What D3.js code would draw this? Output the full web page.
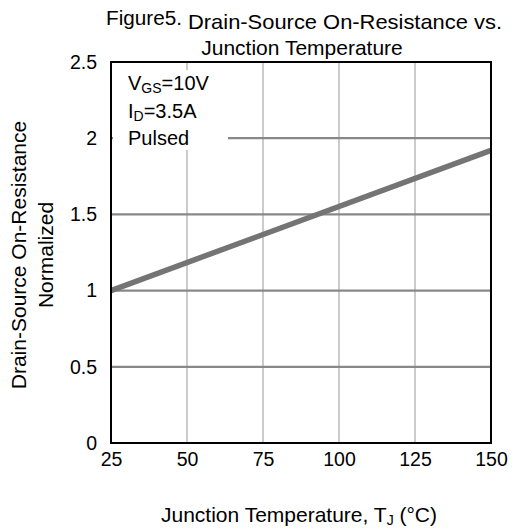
<!DOCTYPE html>
<html>
<head>
<meta charset="utf-8">
<script src="https://cdn.jsdelivr.net/npm/d3@7"></script>
<style>
  body { margin: 0; background: #fff; }
  svg text { font-family: "Liberation Sans", Arial, sans-serif; fill: #000; }
</style>
</head>
<body>
<div id="chart"></div>
<script>
const temps = [25, 150];
const rdsNorm = [1.0, 1.92];
const xTicks = [25, 50, 75, 100, 125, 150];
const yTicks = [0, 0.5, 1, 1.5, 2, 2.5];
const yTickLabels = ["0", "0.5", "1", "1.5", "2", "2.5"];

const W = 512, H = 529;
const margin = { top: 62, right: 21, bottom: 86, left: 111 },
      width = W - margin.left - margin.right,
      height = H - margin.top - margin.bottom;

const svg = d3.select("#chart").append("svg")
    .attr("width", W)
    .attr("height", H);

const g = svg.append("g")
    .attr("transform", "translate(" + margin.left + "," + margin.top + ")");

const x = d3.scaleLinear().domain([25, 150]).range([0, width]);
const y = d3.scaleLinear().domain([0, 2.5]).range([height, 0]);

// vertical grid (light)
g.append("g")
  .selectAll("line")
  .data(xTicks.slice(1, -1))
  .enter().append("line")
    .attr("x1", d => x(d)).attr("x2", d => x(d))
    .attr("y1", 0).attr("y2", height)
    .attr("stroke", "#b0b0b0")
    .attr("stroke-width", 1.3);

// horizontal grid (darker)
g.append("g")
  .selectAll("line")
  .data(yTicks.slice(1, -1))
  .enter().append("line")
    .attr("x1", 0).attr("x2", width)
    .attr("y1", d => y(d)).attr("y2", d => y(d))
    .attr("stroke", "#888")
    .attr("stroke-width", 2.2);

// data line
const data = temps.map((t, i) => ({ t: t, r: rdsNorm[i] }));
g.append("path")
  .datum(data)
  .attr("fill", "none")
  .attr("stroke", "#747474")
  .attr("stroke-width", 5.5)
  .attr("d", d3.line().x(d => x(d.t)).y(d => y(d.r)));

// condition box
g.append("rect")
  .attr("x", 2).attr("y", 8)
  .attr("width", 115).attr("height", 80)
  .attr("fill", "#fff");

const cond = g.append("text")
  .style("font-size", "20px");
const l1 = cond.append("tspan").attr("x", 17).attr("y", 28);
l1.append("tspan").text("V");
l1.append("tspan").attr("dy", 3).style("font-size", "14px").text("GS");
l1.append("tspan").attr("dy", -3).text("=10V");
const l2 = cond.append("tspan").attr("x", 17).attr("y", 56);
l2.append("tspan").text("I");
l2.append("tspan").attr("dy", 3).style("font-size", "14px").text("D");
l2.append("tspan").attr("dy", -3).text("=3.5A");
cond.append("tspan").attr("x", 17).attr("y", 83).text("Pulsed");

// frame
g.append("rect")
  .attr("width", width).attr("height", height)
  .attr("fill", "none")
  .attr("stroke", "#000")
  .attr("stroke-width", 2);

// axes
const xAxis = g.append("g")
  .attr("transform", "translate(0," + height + ")")
  .call(d3.axisBottom(x).tickValues(xTicks).tickSize(0).tickPadding(9).tickFormat(d3.format("d")));
xAxis.select(".domain").remove();
xAxis.selectAll("text").style("font-size", "19.5px").attr("fill", "#000");

const yAxis = g.append("g")
  .call(d3.axisLeft(y).tickValues(yTicks).tickSize(0).tickPadding(14)
    .tickFormat((d, i) => yTickLabels[i]));
yAxis.select(".domain").remove();
yAxis.selectAll("text").style("font-size", "19.5px").attr("fill", "#000");

// title
svg.append("text")
  .attr("x", 106).attr("y", 25)
  .style("font-size", "19.5px")
  .attr("textLength", 76)
  .attr("lengthAdjust", "spacingAndGlyphs")
  .text("Figure5.");
svg.append("text")
  .attr("x", 188).attr("y", 29)
  .style("font-size", "21px")
  .attr("textLength", 314)
  .attr("lengthAdjust", "spacingAndGlyphs")
  .text("Drain-Source On-Resistance vs.");
svg.append("text")
  .attr("x", 302).attr("y", 55)
  .attr("text-anchor", "middle")
  .style("font-size", "21px")
  .text("Junction Temperature");

// x label
const xl = svg.append("text")
  .attr("x", 299).attr("y", 522)
  .attr("text-anchor", "middle")
  .style("font-size", "21px");
xl.append("tspan").text("Junction Temperature, T");
xl.append("tspan").attr("dy", 3).style("font-size", "14px").text("J");
xl.append("tspan").attr("dy", -3).text(" (°C)");

// y label
svg.append("text")
  .attr("transform", "translate(26,255) rotate(-90)")
  .attr("text-anchor", "middle")
  .style("font-size", "21px")
  .text("Drain-Source On-Resistance");
svg.append("text")
  .attr("transform", "translate(53,255) rotate(-90)")
  .attr("text-anchor", "middle")
  .style("font-size", "21px")
  .text("Normalized");
</script>
</body>
</html>
